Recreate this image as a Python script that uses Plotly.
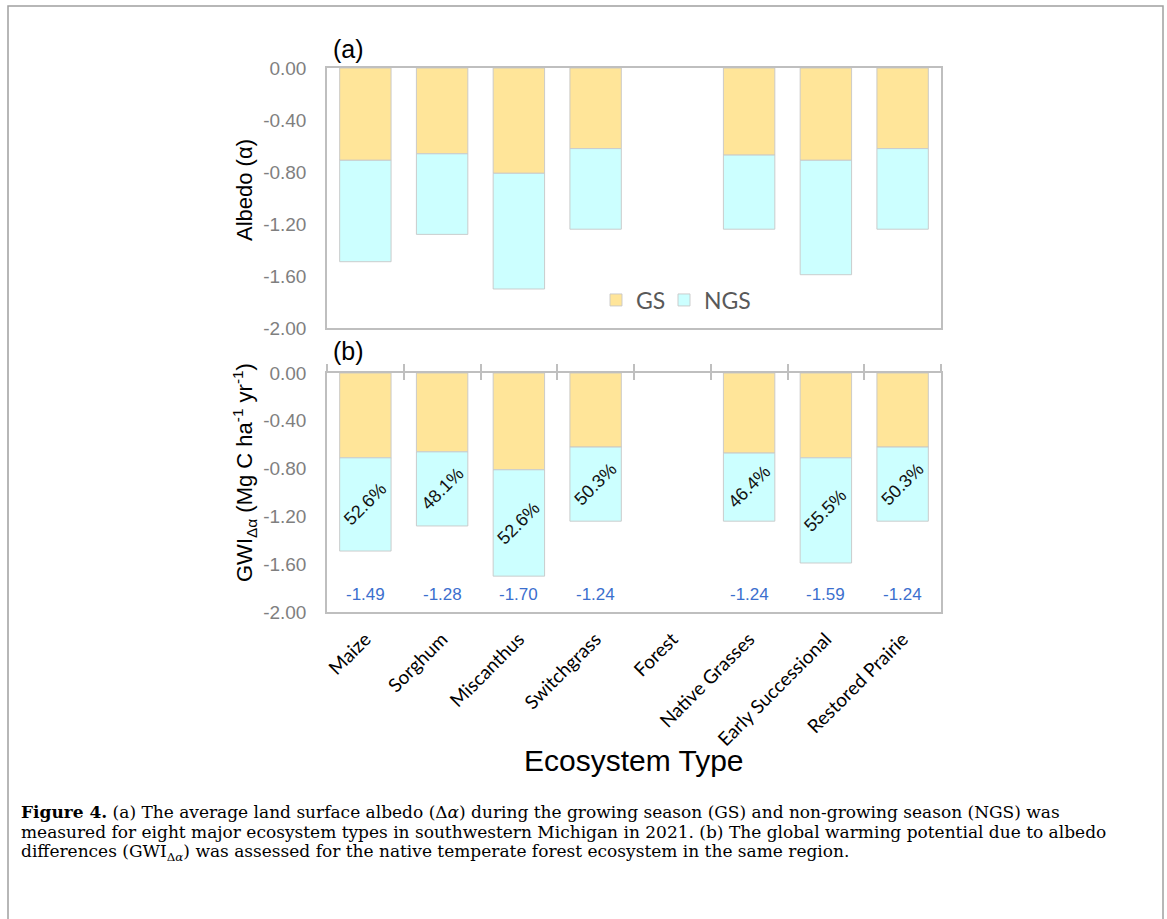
import plotly.graph_objects as go

categories = ["Maize", "Sorghum", "Miscanthus", "Switchgrass", "Forest",
              "Native Grasses", "Early Successional", "Restored Prairie"]
gs_values = [-0.71, -0.66, -0.81, -0.62, None, -0.67, -0.71, -0.62]
ngs_values = [-0.78, -0.62, -0.89, -0.62, None, -0.57, -0.88, -0.62]
totals = [-1.49, -1.28, -1.70, -1.24, None, -1.24, -1.59, -1.24]
ngs_share = ["52.6%", "48.1%", "52.6%", "50.3%", None, "46.4%", "55.5%", "50.3%"]
y_ticks = [0.0, -0.4, -0.8, -1.2, -1.6, -2.0]
y_tick_text = ["0.00", "-0.40", "-0.80", "-1.20", "-1.60", "-2.00"]

GS_COLOR = "#FFE599"
NGS_COLOR = "#CCFFFF"
EDGE = "rgba(200,200,200,0.9)"
AXC = "#bfbfbf"
W, H = 1167, 919

def px_x(p):
    return p / W

def px_y(p):
    return 1 - p / H

xdom = [px_x(327), px_x(941)]
ydom_a = [px_y(328), px_y(68)]
ydom_b = [px_y(612), px_y(373)]

fig = go.Figure()
for xa, ya, show in [("x", "y", True), ("x2", "y2", False)]:
    fig.add_trace(go.Bar(x=categories, y=gs_values, name="GS", marker=dict(color=GS_COLOR, line=dict(color=EDGE, width=1)),
                         xaxis=xa, yaxis=ya, showlegend=show, legendgroup="GS", legend="legend"))
    fig.add_trace(go.Bar(x=categories, y=ngs_values, name="NGS", marker=dict(color=NGS_COLOR, line=dict(color=EDGE, width=1)),
                         xaxis=xa, yaxis=ya, showlegend=show, legendgroup="NGS", legend="legend2"))

# invisible traces to carry categories on overlay axes
for xa in ["x3", "x4"]:
    fig.add_trace(go.Scatter(x=categories, y=[0] * len(categories), mode="none", xaxis=xa, yaxis="y2",
                             showlegend=False, hoverinfo="skip"))

tick_font = dict(family="Liberation Sans, Arial", size=19, color="#7f7f7f")
yax = dict(range=[-2, 0], tickvals=y_ticks, ticktext=y_tick_text, showgrid=False, zeroline=False,
           showline=True, linecolor=AXC, linewidth=1.5, mirror=True, ticks="", ticklabelstandoff=15,
           tickfont=tick_font, automargin=False)
xax = dict(domain=xdom, type="category", categoryorder="array", categoryarray=categories,
           range=[-0.5, len(categories) - 0.5], showgrid=False, zeroline=False, automargin=False)
legend_style = dict(orientation="h", xanchor="left", y=px_y(300), yanchor="middle",
                    font=dict(family="Lato", size=23, color="#595959"), bgcolor="rgba(0,0,0,0)", itemwidth=30)

fig.update_layout(
    width=W, height=H, template="none", barmode="relative", bargap=0.33,
    margin=dict(l=0, r=0, t=0, b=0),
    paper_bgcolor="white", plot_bgcolor="white",
    xaxis=dict(**xax, anchor="y", showticklabels=False, showline=True, linecolor=AXC, linewidth=1.5, mirror=True, ticks=""),
    yaxis=dict(**yax, domain=ydom_a, anchor="x"),
    xaxis2=dict(**xax, anchor="y2", showline=True, linecolor=AXC, linewidth=1.5, mirror=False,
                ticks="outside", ticklen=7, tickcolor="rgba(0,0,0,0)", tickangle=-45,
                tickfont=dict(family="Lato", size=19, color="black")),
    yaxis2=dict(**yax, domain=ydom_b, anchor="x2"),
    xaxis3=dict(**xax, anchor="y2", overlaying="x2", side="top", showline=True, linecolor=AXC, linewidth=1.5,
                ticks="outside", tickson="boundaries", ticklen=7, tickcolor=AXC, tickwidth=1.5, showticklabels=False),
    xaxis4=dict(**xax, anchor="y2", overlaying="x2", side="top", showline=False,
                ticks="inside", tickson="boundaries", ticklen=7, tickcolor=AXC, tickwidth=1.5, showticklabels=False),
    legend=dict(**legend_style, x=px_x(596)),
    legend2=dict(**legend_style, x=px_x(664)),
    showlegend=True,
)

ann = []
# percentage and total labels in panel (b)
for c, g, n, s, t in zip(categories, gs_values, ngs_values, ngs_share, totals):
    if s is None:
        continue
    ann.append(dict(x=c, y=g + n / 2, xref="x2", yref="y2", text=s, showarrow=False, textangle=-45,
                    font=dict(family="Liberation Sans, Arial", size=18, color="#111111")))
    ann.append(dict(x=c, y=-1.85, xref="x2", yref="y2", text=f"{t:.2f}", showarrow=False,
                    font=dict(family="Liberation Sans, Arial", size=17, color="#3b6fce")))

ann += [
    dict(x=px_x(331), y=px_y(49), xref="paper", yref="paper", text="(a)", showarrow=False, xanchor="left",
         yanchor="middle", font=dict(family="Liberation Sans, Arial", size=25, color="black")),
    dict(x=px_x(331), y=px_y(351), xref="paper", yref="paper", text="(b)", showarrow=False, xanchor="left",
         yanchor="middle", font=dict(family="Liberation Sans, Arial", size=25, color="black")),
    dict(x=px_x(244), y=px_y(190), xref="paper", yref="paper", text="Albedo (α)", showarrow=False, textangle=-90,
         xanchor="center", yanchor="middle",
         font=dict(family="Liberation Sans, Arial", size=22, color="black")),
    dict(x=px_x(244), y=px_y(473), xref="paper", yref="paper",
         text="GWI<sub>Δα</sub> (Mg C ha<sup>-1</sup> yr<sup>-1</sup>)", showarrow=False, textangle=-90,
         xanchor="center", yanchor="middle",
         font=dict(family="Liberation Sans, Arial", size=22, color="black")),
    dict(x=px_x(634), y=px_y(760), xref="paper", yref="paper", text="Ecosystem Type", showarrow=False,
         xanchor="center", yanchor="middle",
         font=dict(family="Liberation Sans, Arial", size=30, color="black")),
]

caption = [
    "<b>Figure 4.</b> (a) The average land surface albedo (Δ<i>α</i>) during the growing season (GS) and non-growing season (NGS) was",
    "measured for eight major ecosystem types in southwestern Michigan in 2021. (b) The global warming potential due to albedo",
    "differences (GWI<sub>Δ<i>α</i></sub>) was assessed for the native temperate forest ecosystem in the same region.",
]
for i, line in enumerate(caption):
    ann.append(dict(x=px_x(19), y=px_y(812 + 20 * i), xref="paper", yref="paper", text=line, showarrow=False,
                    xanchor="left", yanchor="middle", align="left",
                    font=dict(family="DejaVu Serif", size=17, color="black")))

fig.update_layout(annotations=ann)

fig.add_shape(type="rect", xref="paper", yref="paper", x0=px_x(8), x1=px_x(1163), y0=-0.05, y1=px_y(6),
              line=dict(color="#a0a0a0", width=1.5), fillcolor="rgba(0,0,0,0)", layer="below")

fig.write_html("out.html", config={"displayModeBar": False},
               post_script="document.body.style.margin='0';")
